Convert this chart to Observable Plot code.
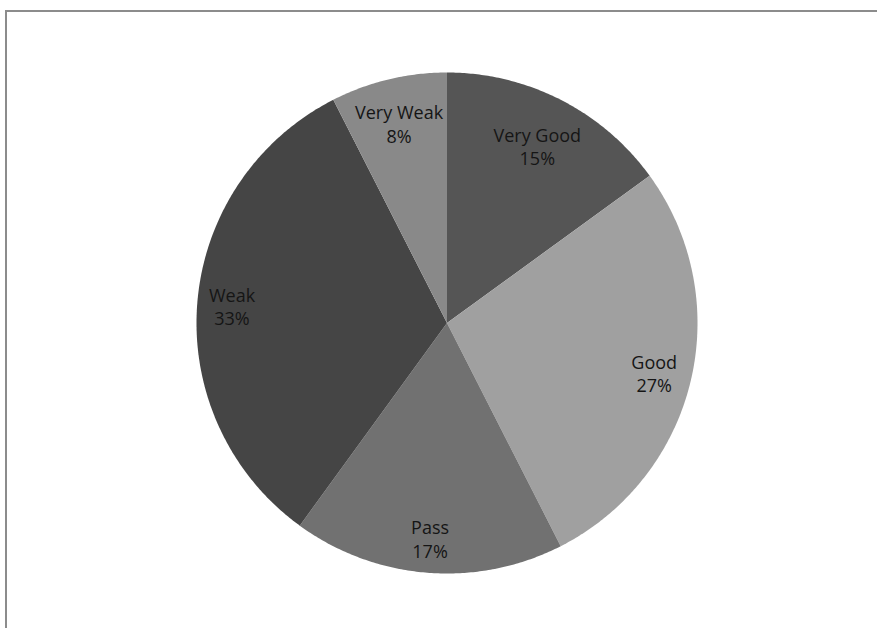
<!DOCTYPE html>
<html>
<head>
<meta charset="utf-8">
<script src="https://cdn.jsdelivr.net/npm/d3@7"></script>
<script src="https://cdn.jsdelivr.net/npm/@observablehq/plot@0.6"></script>
<style>
  html, body { margin: 0; padding: 0; background: #fff; overflow: hidden; }
  #wrap { position: relative; width: 877px; height: 628px; overflow: hidden; }
  #border { position: absolute; left: 5px; top: 10px; width: 1000px; height: 1000px;
            border-left: 2px solid #8c8c8c; border-top: 2px solid #8c8c8c; box-sizing: border-box; }
  #chart { position: absolute; left: 0; top: 0; }
</style>
</head>
<body>
<div id="wrap"><div id="border"></div><div id="chart"></div></div>
<script>
// Data (clockwise from 12 o'clock); slice shares
const categories = ["Very Good", "Good", "Pass", "Weak", "Very Weak"];
const shares = [15, 27.5, 17.5, 32.5, 7.5];
// Percentage labels as printed on the chart
const percentLabels = ["15%", "27%", "17%", "33%", "8%"];

// Styling
const palette = ["#555555", "#a0a0a0", "#717171", "#454545", "#898989"];
const fontSize = 18;
const lineHeight = 1.31;
const fontFamily = "'Open Sans', sans-serif";

const pie = d3.pie().sort(null).value(d => d.value)(
  categories.map((name, i) => ({name, value: shares[i], label: percentLabels[i]}))
);

function sectorRing(a0, a1) {
  const n = Math.max(2, Math.ceil((a1 - a0) / (Math.PI / 360)));
  const ring = [[0, 0]];
  for (let k = 0; k <= n; k++) {
    const a = a0 + (a1 - a0) * k / n;
    ring.push([Math.sin(a), Math.cos(a)]);
  }
  ring.push([0, 0]);
  return ring;
}

const slices = pie.map(p => ({
  type: "Feature",
  properties: {name: p.data.name},
  geometry: {type: "Polygon", coordinates: [sectorRing(p.startAngle, p.endAngle)]}
}));

const cx = 446.5, cy = 322.5, R = 250.5;
const projection = d3.geoIdentity().reflectY(true).scale(R).translate([cx, cy]);

// "Inside end" label placement: push the label box outward along the
// slice's mid-angle until its outer corner nears the rim.
const ctx = document.createElement("canvas").getContext("2d");
ctx.font = `${fontSize}px ${fontFamily}`;
const rimTarget = (R - 9) / R;
const labels = pie.map(p => {
  const m = (p.startAngle + p.endAngle) / 2;
  const lines = [p.data.name, p.data.label];
  const hw = d3.max(lines, s => ctx.measureText(s).width) / 2 / R;
  const hh = (fontSize * lineHeight) / R;
  const sx = Math.abs(Math.sin(m)), sy = Math.abs(Math.cos(m));
  const b = sx * hw + sy * hh;
  const c = hw * hw + hh * hh - rimTarget * rimTarget;
  const t = -b + Math.sqrt(b * b - c);
  return {x: t * Math.sin(m), y: t * Math.cos(m), text: lines.join("\n")};
});

const chart = Plot.plot({
  width: 877,
  height: 628,
  margin: 0,
  projection,
  color: {domain: categories, range: palette},
  style: {background: "transparent", fontFamily},
  marks: [
    Plot.geo(slices, {fill: d => d.properties.name, stroke: "none"}),
    Plot.text(labels, {
      x: "x", y: "y", text: "text",
      fontSize, lineHeight, fill: "#151515", fontFamily
    })
  ]
});
document.getElementById("chart").appendChild(chart);
</script>
</body>
</html>
